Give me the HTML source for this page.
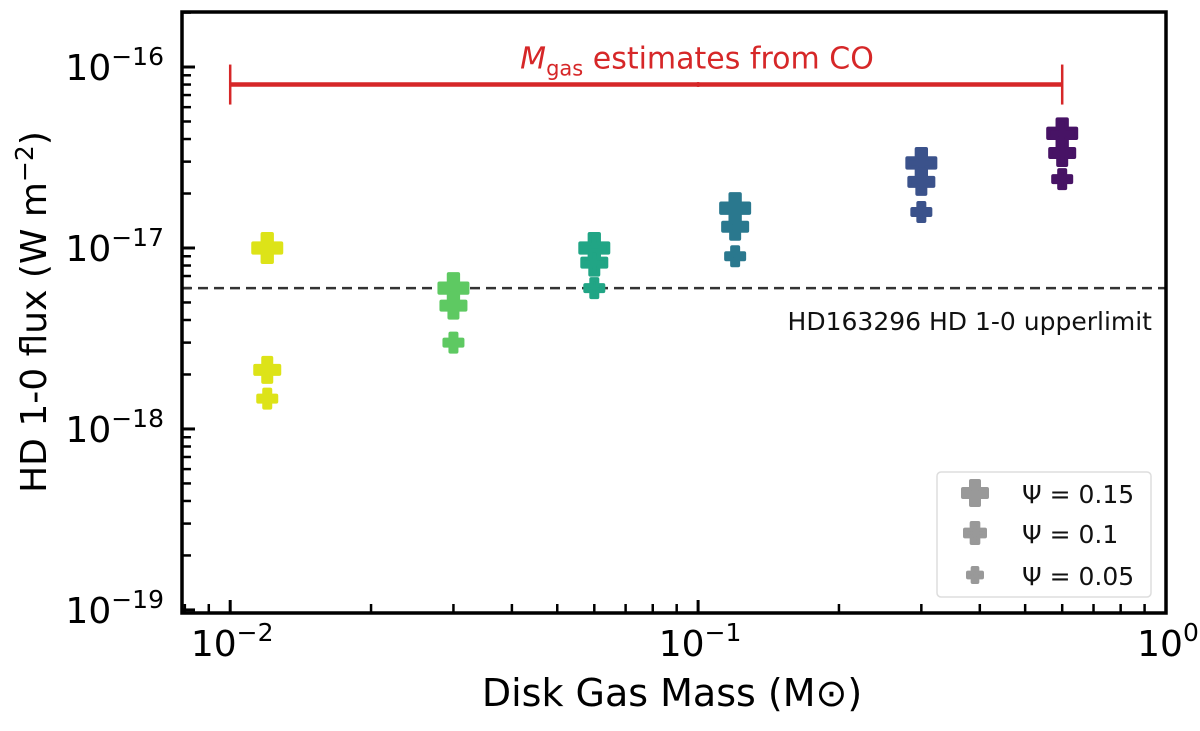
<!DOCTYPE html>
<html><head><meta charset="utf-8"><style>
html,body{margin:0;padding:0;background:#fff;}
svg text{font-family:"DejaVu Sans","Liberation Sans",sans-serif;}
</style></head><body>
<svg id="chart" width="1200" height="726" viewBox="0 0 1200 726" xmlns="http://www.w3.org/2000/svg"></svg>
<script>
const masses = [0.012, 0.03, 0.06, 0.12, 0.3, 0.6];
const colors = ['#dde318','#5ec962','#21a585','#2a788e','#3b528b','#471365'];
const fluxPsi015 = [1.0e-17, 6.0e-18, 1.0e-17, 1.66e-17, 2.95e-17, 4.3e-17];
const fluxPsi010 = [2.12e-18, 4.8e-18, 8.3e-18, 1.31e-17, 2.32e-17, 3.35e-17];
const fluxPsi005 = [1.47e-18, 3.0e-18, 6.0e-18, 9.0e-18, 1.58e-17, 2.4e-17];
const upperLimit = 6.0e-18;
const coRange = [0.01, 0.6];
const coFlux = 8e-17;
const xTicks = [-2, -1, 0];
const yTicks = [-16, -17, -18, -19];

const L=182, R=1166, T=12, B=613;
const xMin=-2.103, xMax=0.0, yMin=-19.017, yMax=-15.696;
const X=v=>L+(Math.log10(v)-xMin)/(xMax-xMin)*(R-L);
const Y=v=>B-(Math.log10(v)-yMin)/(yMax-yMin)*(B-T);
const svg=document.getElementById('chart');
const NS='http://www.w3.org/2000/svg';
function mk(tag,attrs,parent){const e=document.createElementNS(NS,tag);for(const k in attrs)e.setAttribute(k,attrs[k]);(parent||svg).appendChild(e);return e;}

// ticks (bottom and left only)
const tg=mk('g',{});


for(let d=-3;d<=0;d++){for(let m=1;m<10;m++){const v=m*Math.pow(10,d);const lv=Math.log10(v);if(lv<xMin-1e-9||lv>xMax+1e-9)continue;const x=X(v);const len=m===1?13:9;
mk('line',{x1:x,y1:B,x2:x,y2:B-len,stroke:'#000','stroke-width':m===1?3:2.5},tg);}}
for(let d=-20;d<=-16;d++){for(let m=1;m<10;m++){const v=m*Math.pow(10,d);const lv=Math.log10(v);if(lv<yMin-1e-9||lv>yMax+1e-9)continue;const y=Y(v);const len=m===1?13:9;
mk('line',{x1:L,y1:y,x2:L+len,y2:y,stroke:'#000','stroke-width':m===1?3:2.5},tg);}}

// tick labels
xTicks.forEach(p=>{const t=mk('text',{x:X(Math.pow(10,p))+2,y:656,'font-size':36,'text-anchor':'middle'});


t.innerHTML='10<tspan dy="-15" font-size="25"></tspan>';
t.querySelector('tspan').textContent=(p<0?'\u2212'+(-p):''+p);});
yTicks.forEach(p=>{const t=mk('text',{x:164,y:Y(Math.pow(10,p))+13,'font-size':36,'text-anchor':'end'});


t.innerHTML='10<tspan dy="-15" font-size="25"></tspan>';
t.querySelector('tspan').textContent='\u2212'+(-p);});

// upper limit
const ul=mk('line',{x1:L,y1:Y(upperLimit),x2:R,y2:Y(upperLimit),stroke:'#333','stroke-width':2.5,'stroke-dasharray':'10,6'});


const ult=mk('text',{x:1152,y:Y(upperLimit)+42,'font-size':25,'text-anchor':'end',fill:'#111'});


ult.textContent='HD163296 HD 1-0 upperlimit';

// CO range
const cg=mk('g',{});


const cy=Y(coFlux), x0=X(coRange[0]), x1=X(coRange[1]);
mk('line',{x1:x0,y1:cy,x2:x1,y2:cy,stroke:'#d62728','stroke-width':4.5},cg);
mk('line',{x1:x0,y1:cy-20,x2:x0,y2:cy+20,stroke:'#d62728','stroke-width':2.5},cg);
mk('line',{x1:x1,y1:cy-20,x2:x1,y2:cy+20,stroke:'#d62728','stroke-width':2.5},cg);
mk('circle',{cx:X(0.1),cy:cy,r:2.5,fill:'#d62728'},cg);
const ct=mk('text',{x:697,y:cy-16,'font-size':30,'text-anchor':'middle',fill:'#d62728'});


ct.innerHTML='<tspan font-style="italic">M</tspan><tspan font-size="21" dy="7">gas</tspan><tspan dy="-7"> estimates from CO</tspan>';

// markers
function cross(g,cx,cy,s,col){const a=s/3,h=s/2;
const d=`M${cx-a/2},${cy-h}h${a}v${h-a/2}h${h-a/2}v${a}h-${h-a/2}v${h-a/2}h-${a}v-${h-a/2}h-${h-a/2}v-${a}h${h-a/2}z`;
return mk('path',{d:d,fill:col,stroke:col,'stroke-width':4,'stroke-linejoin':'round'},g);}
const sets=[[fluxPsi015,28],[fluxPsi010,24],[fluxPsi005,18]];
const names=['psi-0.15','psi-0.1','psi-0.05'];
sets.forEach((s,si)=>{const g=mk('g',{});


s[0].forEach((v,i)=>{const p=cross(g,X(masses[i]),Y(v),s[1],colors[i]);

});});

// frame
const fr=mk('rect',{x:L,y:T,width:R-L,height:B-T,fill:'none',stroke:'#000','stroke-width':3.5});



// legend
const lg=mk('g',{});


mk('rect',{x:937,y:472,width:214,height:125,rx:4,fill:'#fff',stroke:'#ddd','stroke-width':1.5},lg);
const lab=['\u03A8 = 0.15','\u03A8 = 0.1','\u03A8 = 0.05'];const ly=[493,533,575];
sets.forEach((s,si)=>{cross(lg,975,ly[si],s[1]-4,'#999');
const t=mk('text',{x:1022,y:ly[si]+10,'font-size':25,fill:'#111'},lg);


t.textContent=lab[si];});

// axis titles
const xt=mk('text',{x:672,y:706,'font-size':38,'text-anchor':'middle'});


xt.textContent='Disk Gas Mass (M\u2299)';
const yt=mk('text',{x:0,y:0,'font-size':36,'text-anchor':'middle',transform:'translate(46,312) rotate(-90)'});


yt.innerHTML='HD 1-0 flux (W m<tspan dy="-13" font-size="25">\u22122</tspan><tspan dy="13">)</tspan>';
</script>
</body></html>
